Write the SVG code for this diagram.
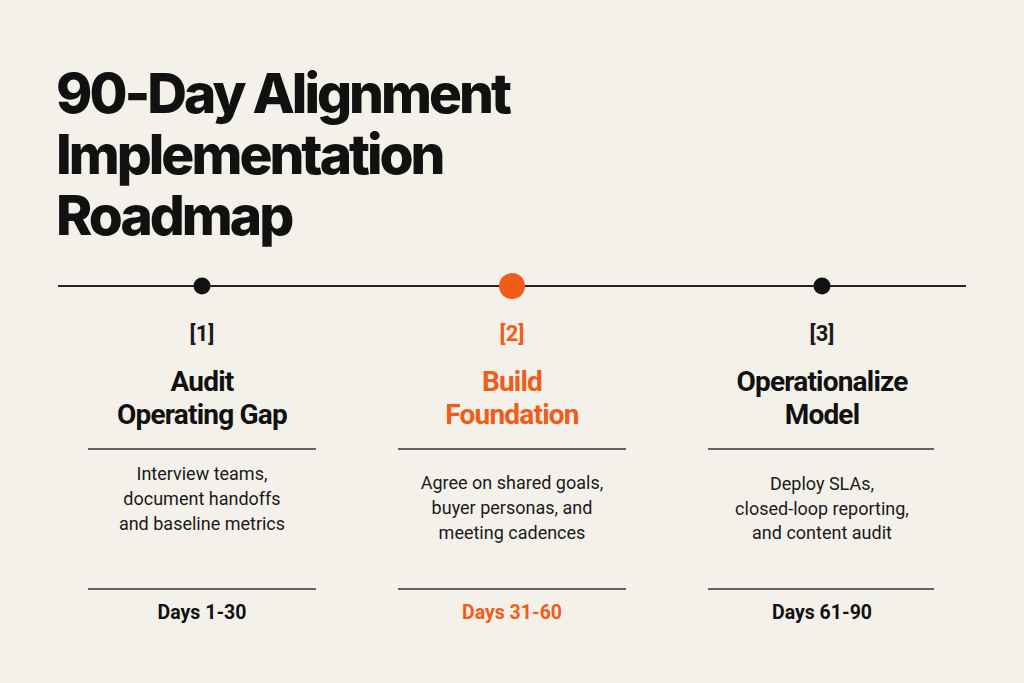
<svg xmlns="http://www.w3.org/2000/svg" width="1024" height="683" viewBox="0 0 1024 683">
<style>
.title{font-family:Inter,"Liberation Sans",sans-serif;font-weight:800;font-size:55px;letter-spacing:-3px;fill:#111}
.num{font-family:Roboto,"Liberation Sans",sans-serif;font-weight:700;font-size:22px;text-anchor:middle;fill:#1a1a1a}
.head{font-family:Roboto,"Liberation Sans",sans-serif;font-weight:700;font-size:28px;letter-spacing:-0.8px;text-anchor:middle;fill:#111}
.body{font-family:Roboto,"Liberation Sans",sans-serif;font-weight:400;font-size:18px;text-anchor:middle;fill:#1a1a1a}
.days{font-family:Roboto,"Liberation Sans",sans-serif;font-weight:700;font-size:19.5px;text-anchor:middle;fill:#111}
.o{fill:#F25C19}
.rule{stroke:#333;stroke-width:1.6}
</style>
<rect width="1024" height="683" fill="#F4F1EA"/>
<g id="title">
<text class="title" x="56" y="113">90-Day Alignment</text>
<text class="title" x="56" y="174">Implementation</text>
<text class="title" x="56" y="235">Roadmap</text>
</g>
<g id="connectors">
<line x1="58" y1="286" x2="966" y2="286" stroke="#222" stroke-width="2"/>
</g>
<g id="step1">
<circle cx="202" cy="286" r="8.5" fill="#111"/>
<text class="num" x="202" y="341">[1]</text>
<text class="head" x="202" y="391">Audit</text>
<text class="head" x="202" y="424">Operating Gap</text>
<line class="rule" x1="88" y1="449" x2="316" y2="449"/>
<text class="body" x="202" y="480">Interview teams,</text>
<text class="body" x="202" y="505">document handoffs</text>
<text class="body" x="202" y="530">and baseline metrics</text>
<line class="rule" x1="88" y1="589" x2="316" y2="589"/>
<text class="days" x="202" y="619">Days 1-30</text>
</g>
<g id="step2">
<circle cx="512" cy="286" r="13" fill="#F25C19"/>
<text class="num o" x="512" y="341">[2]</text>
<text class="head o" x="512" y="391">Build</text>
<text class="head o" x="512" y="424">Foundation</text>
<line class="rule" x1="398" y1="449" x2="626" y2="449"/>
<text class="body" x="512" y="489">Agree on shared goals,</text>
<text class="body" x="512" y="514">buyer personas, and</text>
<text class="body" x="512" y="539">meeting cadences</text>
<line class="rule" x1="398" y1="589" x2="626" y2="589"/>
<text class="days o" x="512" y="619">Days 31-60</text>
</g>
<g id="step3">
<circle cx="822" cy="286" r="8.5" fill="#111"/>
<text class="num" x="822" y="341">[3]</text>
<text class="head" x="822" y="391">Operationalize</text>
<text class="head" x="822" y="424">Model</text>
<line class="rule" x1="708" y1="449" x2="934" y2="449"/>
<text class="body" x="822" y="490">Deploy SLAs,</text>
<text class="body" x="822" y="515">closed-loop reporting,</text>
<text class="body" x="822" y="539">and content audit</text>
<line class="rule" x1="708" y1="589" x2="934" y2="589"/>
<text class="days" x="822" y="619">Days 61-90</text>
</g>
</svg>
